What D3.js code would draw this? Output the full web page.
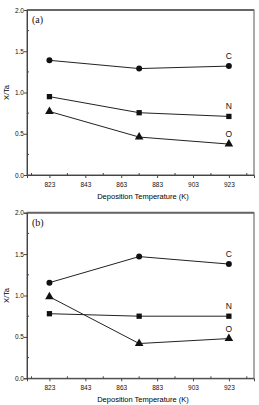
<!DOCTYPE html>
<html>
<head>
<meta charset="utf-8">
<script src="https://cdn.jsdelivr.net/npm/d3@7"></script>
<style>
  body { margin: 0; background: #fff; }
  svg { display: block; font-family: Arial, "Liberation Sans", sans-serif; }
</style>
</head>
<body>
<svg id="chart" width="259" height="405"></svg>
<script>
// deposition temperatures (K)
const temps = [823, 873, 923];
const xTicks = [823, 843, 863, 883, 903, 923];
const yTicks = [0.0, 0.5, 1.0, 1.5, 2.0];

// panel (a)
const a_C = [1.39, 1.29, 1.32];
const a_N = [0.95, 0.755, 0.71];
const a_O = [0.77, 0.46, 0.375];

// panel (b)
const b_C = [1.155, 1.47, 1.38];
const b_N = [0.78, 0.75, 0.75];
const b_O = [0.985, 0.42, 0.48];

const seriesNames = ['C', 'N', 'O'];
const markers = { C: d3.symbolCircle, N: d3.symbolSquare, O: d3.symbolTriangle };
const markerSize = { C: 28, N: 28, O: 32 };

const svg = d3.select('#chart');

/**
 * Draws one panel with its frame, axes, lines and labels.
 */
function drawPanel(tag, top, bottom, series) {
    const left = 27, right = 254;

    const xScale = d3.scaleLinear().domain([810.5, 937]).range([left, right]);
    const yScale = d3.scaleLinear().domain([0, 2]).range([bottom, top]);

    const g = svg.append('g');

    // frame
    g.append('rect')
        .attr('x', left).attr('y', top)
        .attr('width', right - left).attr('height', bottom - top)
        .attr('fill', 'none').attr('stroke', '#555').attr('stroke-width', 1);
    g.append('line')
        .attr('x1', left).attr('x2', right).attr('y1', top).attr('y2', top)
        .attr('stroke', '#666').attr('stroke-width', 2);

    // x axis
    const xAxis = d3.axisBottom(xScale).tickValues(xTicks).tickSize(3).tickFormat(d3.format('d'));
    const gx = g.append('g').attr('transform', 'translate(0,' + bottom + ')').call(xAxis);
    gx.select('.domain').attr('stroke', '#444');
    gx.selectAll('.tick line').attr('stroke', '#444');
    gx.selectAll('.tick text').attr('font-size', 6.5).attr('fill', '#111').attr('dy', '0.9em');
    gx.selectAll('.minor').data(d3.range(813, 937, 20)).enter()
        .append('line')
        .attr('x1', (d) => xScale(d)).attr('x2', (d) => xScale(d))
        .attr('y1', 0).attr('y2', -2)
        .attr('stroke', '#444');

    // y axis
    const yAxis = d3.axisLeft(yScale).tickValues(yTicks).tickSize(3).tickFormat(d3.format('.1f'));
    const gy = g.append('g').attr('transform', 'translate(' + left + ',0)').call(yAxis);
    gy.select('.domain').attr('stroke', '#444');
    gy.selectAll('.tick line').attr('stroke', '#444');
    gy.selectAll('.tick text').attr('font-size', 6.5).attr('fill', '#111').attr('x', -3);
    gy.selectAll('.minor').data([0.25, 0.75, 1.25, 1.75]).enter()
        .append('line')
        .attr('y1', (d) => yScale(d)).attr('y2', (d) => yScale(d))
        .attr('x1', 0).attr('x2', 2)
        .attr('stroke', '#444');

    // axis labels
    g.append('text')
        .attr('x', 143).attr('y', bottom + 24)
        .attr('text-anchor', 'middle')
        .attr('font-size', 7.5).attr('fill', '#000')
        .text('Deposition Temperature (K)');
    g.append('text')
        .attr('transform', 'translate(9,' + (top + bottom) / 2 + ') rotate(-90)')
        .attr('text-anchor', 'middle')
        .attr('font-size', 7.5).attr('fill', '#000')
        .text('X/Ta');

    // panel tag
    g.append('text')
        .attr('x', left + 5).attr('y', top + 13)
        .attr('font-family', '"Liberation Serif", "DejaVu Serif", serif')
        .attr('font-size', 10).attr('fill', '#111')
        .text(tag);

    const line = d3.line()
        .x((d, i) => xScale(temps[i]))
        .y((d) => yScale(d));

    seriesNames.forEach((name) => {
        const vals = series[name];
        g.append('path')
            .attr('d', line(vals))
            .attr('fill', 'none').attr('stroke', '#222').attr('stroke-width', 1);

        g.selectAll('.pt_' + name)
            .data(vals)
            .enter()
            .append('path')
            .attr('class', 'pt_' + name)
            .attr('d', d3.symbol().type(markers[name]).size(markerSize[name]))
            .attr('transform', (d, i) => 'translate(' + xScale(temps[i]) + ',' + yScale(d) + ')')
            .attr('fill', '#111');

        g.append('text')
            .attr('x', xScale(temps[2]))
            .attr('y', yScale(vals[2]) - 7)
            .attr('text-anchor', 'middle')
            .attr('font-size', 8.5).attr('fill', '#111')
            .text(name);
    });
}

drawPanel('(a)', 10, 175, { C: a_C, N: a_N, O: a_O });
drawPanel('(b)', 212.7, 378.3, { C: b_C, N: b_N, O: b_O });
</script>
</body>
</html>
